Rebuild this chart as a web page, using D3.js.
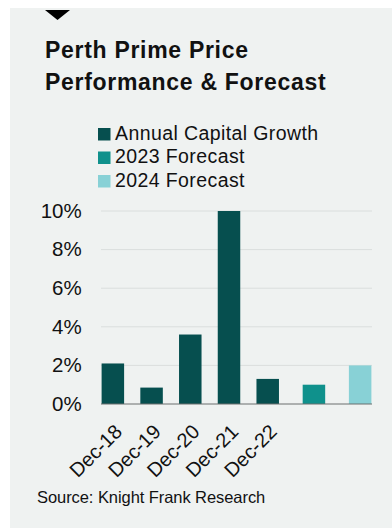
<!DOCTYPE html>
<html>
<head>
<meta charset="utf-8">
<script src="https://cdn.jsdelivr.net/npm/d3@7"></script>
<style>
  html, body { margin: 0; padding: 0; background: #fff; }
  svg { display: block; font-family: "Liberation Sans", Arial, sans-serif; }
</style>
</head>
<body>
<div id="chart"></div>
<script>
// data
var categories = ['Dec-18', 'Dec-19', 'Dec-20', 'Dec-21', 'Dec-22', '2023', '2024'];
var tickLabels = ['Dec-18', 'Dec-19', 'Dec-20', 'Dec-21', 'Dec-22', '', ''];
var seriesNames = ['Annual Capital Growth', '2023 Forecast', '2024 Forecast'];
var seriesColors = ['#064f4f', '#0f918c', '#88d1d6'];
// value per category and which series it belongs to
var values = [2.1, 0.85, 3.6, 10.0, 1.3, 1.0, 2.0];
var valueSeries = [0, 0, 0, 0, 0, 1, 2];
var yTicks = [0, 2, 4, 6, 8, 10];

var width = 392, height = 530;
var plot = { left: 101, right: 372, top: 211, bottom: 404 };

var svg = d3.select('#chart').append('svg')
  .attr('width', width)
  .attr('height', height);

// panel background
svg.append('rect')
  .attr('x', 10).attr('y', 8)
  .attr('width', width - 10).attr('height', 520)
  .attr('fill', '#eff2f1');

// little marker triangle
svg.append('path')
  .attr('d', 'M45,10 L70,10 L57.5,20 Z')
  .attr('fill', '#000');

// title
var title = svg.append('text')
  .attr('x', 45).attr('y', 58)
  .attr('font-size', 23)
  .attr('font-weight', 'bold')
  .attr('letter-spacing', 0.7)
  .attr('fill', '#111');
title.append('tspan').attr('x', 45).text('Perth Prime Price');
title.append('tspan').attr('x', 45).attr('y', 90).text('Performance & Forecast');

// legend
var legend = svg.append('g').attr('transform', 'translate(98,128)');
var items = legend.selectAll('g').data(seriesNames).enter().append('g')
  .attr('transform', function (d, i) { return 'translate(0,' + (i * 23.5) + ')'; });
items.append('rect')
  .attr('width', 12.5).attr('height', 12.5)
  .attr('fill', function (d, i) { return seriesColors[i]; });
items.append('text')
  .attr('x', 17).attr('y', 11.5)
  .attr('font-size', 19.5)
  .attr('letter-spacing', 0.4)
  .attr('fill', '#111')
  .text(function (d) { return d; });

// scales
var x = d3.scaleBand().domain(categories).range([plot.left, plot.right]);
var xSub = d3.scalePoint().domain(d3.range(seriesNames.length)).range([-7.5, 7.5]);
var y = d3.scaleLinear().domain([0, 10]).range([plot.bottom, plot.top]);
var barW = 22.5;

// grid
svg.append('g').selectAll('line').data(yTicks.filter(function (t) { return t > 0; }))
  .enter().append('line')
  .attr('x1', plot.left).attr('x2', plot.right)
  .attr('y1', function (d) { return y(d); })
  .attr('y2', function (d) { return y(d); })
  .attr('stroke', '#dadedd')
  .attr('stroke-width', 1);

// y axis labels
var yAxis = d3.axisLeft(y).tickValues(yTicks)
  .tickFormat(function (d) { return d + '%'; })
  .tickSize(0).tickPadding(0);
var yg = svg.append('g').attr('transform', 'translate(81.7,-1)').call(yAxis);
yg.select('.domain').remove();
yg.selectAll('text')
  .attr('font-family', '"Liberation Sans", Arial, sans-serif')
  .attr('font-size', 20.5)
  .attr('fill', '#111')
  .attr('dy', '0.36em');

// bars
svg.append('g').selectAll('rect').data(values).enter().append('rect')
  .attr('x', function (d, i) {
    return x(categories[i]) + x.bandwidth() / 2 + xSub(valueSeries[i]) - barW / 2;
  })
  .attr('width', barW)
  .attr('y', function (d) { return y(d); })
  .attr('height', function (d) { return y(0) - y(d); })
  .attr('fill', function (d, i) { return seriesColors[valueSeries[i]]; });

// baseline
svg.append('line')
  .attr('x1', plot.left).attr('x2', plot.right)
  .attr('y1', y(0)).attr('y2', y(0))
  .attr('stroke', '#6b6f6e').attr('stroke-width', 1);

// x labels
svg.append('g').selectAll('text').data(categories).enter().append('text')
  .attr('transform', function (d) {
    return 'translate(' + (x(d) + x.bandwidth() / 2 + 3) + ',433) rotate(-45)';
  })
  .attr('text-anchor', 'end')
  .attr('font-size', 20)
  .attr('fill', '#111')
  .text(function (d, i) { return tickLabels[i]; });

// source
svg.append('text')
  .attr('x', 37).attr('y', 503)
  .attr('font-size', 16.5)
  .attr('letter-spacing', -0.07)
  .attr('fill', '#111')
  .text('Source: Knight Frank Research');
</script>
</body>
</html>
